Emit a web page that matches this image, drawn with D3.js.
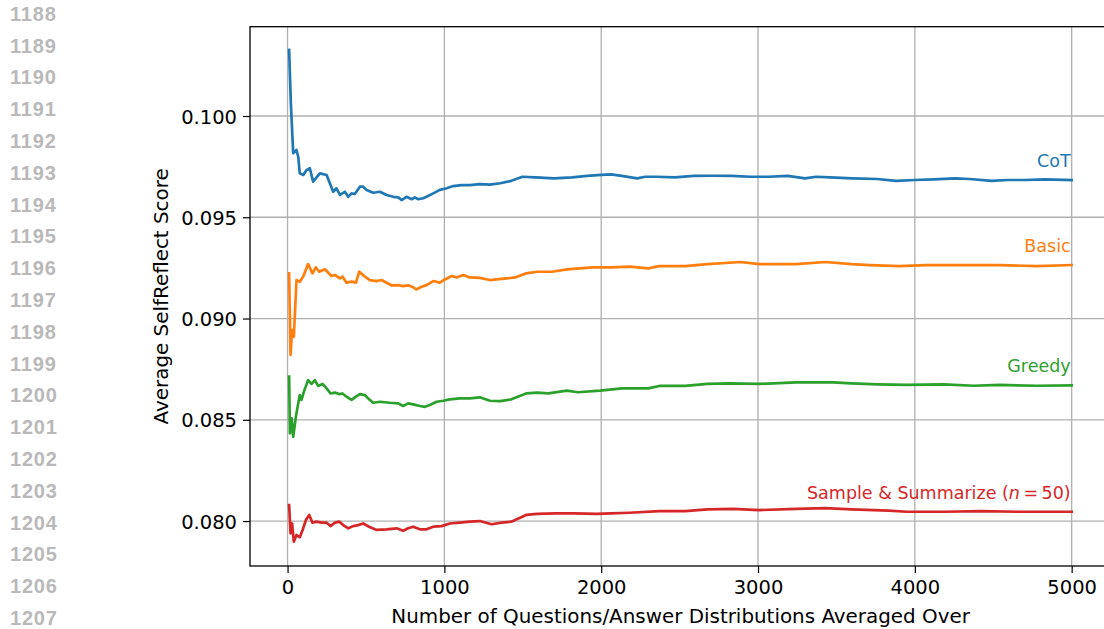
<!DOCTYPE html>
<html>
<head>
<meta charset="utf-8">
<script src="https://cdn.jsdelivr.net/npm/d3@7"></script>
<style>
  html, body { margin: 0; padding: 0; background: #fff; }
  svg { display: block; }
</style>
</head>
<body>
<svg id="chart" width="1104" height="629"></svg>
<script>
// ---- data ----
const lineNumbers = [1188,1189,1190,1191,1192,1193,1194,1195,1196,1197,1198,1199,1200,1201,1202,1203,1204,1205,1206,1207];
const xTicks = [0, 1000, 2000, 3000, 4000, 5000];
const yTicks = [0.080, 0.085, 0.090, 0.095, 0.100];
const seriesNames = ["CoT", "Basic", "Greedy", "Sample & Summarize (n = 50)"];
const seriesColors = ["#1f77b4", "#ff7f0e", "#2ca02c", "#d62728"];

const cot = [[10,0.10326],[21,0.10063],[36,0.09816],[57,0.09832],[68,0.09799],[78,0.09717],[100,0.09709],[121,0.09733],[142,0.09742],[163,0.09676],[206,0.09717],[249,0.09709],[291,0.09626],[312,0.09643],[334,0.0961],[365,0.09626],[387,0.09601],[408,0.09618],[429,0.09615],[461,0.09651],[482,0.09651],[504,0.09635],[546,0.09621],[589,0.09626],[631,0.0961],[674,0.09601],[706,0.09598],[727,0.09585],[759,0.09601],[791,0.09589],[812,0.09598],[833,0.09589],[865,0.09594],[886,0.09601],[929,0.09618],[971,0.09635],[1014,0.09643],[1056,0.09654],[1110,0.09659],[1163,0.09659],[1226,0.09664],[1290,0.09661],[1356,0.09668],[1427,0.0968],[1498,0.097],[1580,0.09697],[1700,0.09692],[1815,0.09697],[1910,0.09704],[2000,0.09709],[2064,0.09712],[2130,0.09704],[2230,0.09692],[2280,0.097],[2350,0.097],[2470,0.09697],[2590,0.09704],[2710,0.09705],[2830,0.09704],[2950,0.097],[3070,0.09700],[3190,0.09704],[3300,0.09692],[3370,0.097],[3460,0.09697],[3600,0.09692],[3760,0.09689],[3880,0.09680],[4000,0.09684],[4120,0.09687],[4260,0.09692],[4350,0.09689],[4490,0.0968],[4590,0.09684],[4700,0.09684],[4830,0.09687],[5000,0.09684]];

const basic = [[10,0.09223],[19,0.0882],[29,0.08943],[40,0.0891],[57,0.0919],[78,0.09182],[100,0.09207],[131,0.09269],[159,0.09223],[180,0.09253],[202,0.09231],[238,0.09243],[280,0.0921],[302,0.09215],[334,0.09198],[350,0.09207],[376,0.09177],[408,0.09182],[436,0.09177],[457,0.09231],[493,0.09207],[525,0.0919],[568,0.09185],[599,0.0919],[631,0.09177],[663,0.09164],[706,0.09165],[737,0.0916],[769,0.09164],[801,0.09154],[822,0.09144],[855,0.09157],[886,0.09165],[929,0.09185],[971,0.09177],[1003,0.09193],[1046,0.0921],[1078,0.09203],[1120,0.09215],[1163,0.09203],[1226,0.09201],[1290,0.0919],[1333,0.09193],[1397,0.09198],[1451,0.09203],[1521,0.09223],[1592,0.09231],[1686,0.09231],[1781,0.09243],[1946,0.09253],[2064,0.09253],[2182,0.09256],[2300,0.09248],[2370,0.09259],[2535,0.09259],[2677,0.09269],[2889,0.09279],[3007,0.09269],[3243,0.09269],[3431,0.09279],[3596,0.09269],[3714,0.09264],[3903,0.09259],[4068,0.09264],[4304,0.09264],[4540,0.09264],[4775,0.09259],[5000,0.09264]];

const greedy = [[10,0.08713],[15,0.08433],[26,0.08507],[36,0.08416],[53,0.08515],[68,0.08581],[78,0.08622],[89,0.08598],[104,0.08639],[131,0.08696],[153,0.08677],[174,0.08696],[195,0.08667],[223,0.08677],[249,0.08655],[274,0.0863],[302,0.08634],[329,0.08627],[350,0.0863],[376,0.08614],[408,0.08598],[436,0.08614],[461,0.08627],[493,0.08622],[520,0.08601],[546,0.08584],[589,0.08589],[652,0.08584],[706,0.08581],[737,0.08568],[769,0.08581],[801,0.08576],[844,0.08568],[876,0.08564],[907,0.08573],[950,0.08589],[992,0.08594],[1035,0.08601],[1099,0.08606],[1163,0.08606],[1226,0.08611],[1290,0.08594],[1356,0.08592],[1427,0.08601],[1521,0.0863],[1592,0.08634],[1663,0.0863],[1781,0.08644],[1851,0.08636],[1993,0.08644],[2134,0.08655],[2300,0.08655],[2370,0.08667],[2535,0.08667],[2677,0.08677],[2818,0.0868],[3007,0.08677],[3243,0.08685],[3478,0.08685],[3596,0.0868],[3761,0.08675],[3950,0.08672],[4186,0.08675],[4375,0.08668],[4540,0.08672],[4775,0.08668],[5000,0.0867]];

const sampleSum = [[10,0.08079],[19,0.07939],[29,0.07988],[40,0.07898],[57,0.07931],[78,0.0792],[96,0.07956],[117,0.08005],[138,0.0803],[159,0.07992],[185,0.07997],[217,0.07992],[249,0.07992],[274,0.07975],[302,0.07992],[329,0.07997],[355,0.0798],[387,0.07964],[418,0.07975],[450,0.0798],[482,0.07988],[520,0.07972],[568,0.07956],[631,0.07959],[695,0.07964],[737,0.07952],[769,0.07964],[801,0.07972],[844,0.07959],[886,0.07959],[929,0.07972],[982,0.07975],[1035,0.07988],[1099,0.07992],[1163,0.07997],[1226,0.0800],[1301,0.07984],[1365,0.07992],[1427,0.07997],[1521,0.0803],[1592,0.08035],[1710,0.08038],[1828,0.08038],[1969,0.08035],[2064,0.08038],[2182,0.08041],[2370,0.08049],[2535,0.08049],[2677,0.08058],[2842,0.0806],[3007,0.08054],[3243,0.0806],[3431,0.08064],[3596,0.08058],[3832,0.08051],[3950,0.08046],[4186,0.08046],[4422,0.08049],[4657,0.08046],[5000,0.08046]];

const allSeries = [cot, basic, greedy, sampleSum];

// ---- layout ----
const svg = d3.select("#chart");
const plot = { left: 250, top: 26.7, right: 1110.8, bottom: 566 };

const x = d3.scaleLinear().domain([-239.5, 5249.5]).range([plot.left, plot.right]);
const y = d3.scaleLinear().domain([0.07778, 0.10441]).range([plot.bottom, plot.top]);

const tickFont = "DejaVu Sans, sans-serif";
const tickSize = 19.5;
const labelSize = 19.9;

// line numbers on the far left
svg.append("g").selectAll("text").data(lineNumbers).join("text")
  .attr("x", 10)
  .attr("y", (d, i) => 20.7 + i * 31.8)
  .attr("font-family", "Liberation Sans, Arial, sans-serif")
  .attr("font-weight", "bold")
  .attr("font-size", 20)
  .attr("letter-spacing", 0.8)
  .attr("fill", "#b9b9b9")
  .text(d => d);

// grid
const grid = svg.append("g");
grid.selectAll("line.gx").data(xTicks).join("line")
  .attr("x1", d => x(d)).attr("x2", d => x(d))
  .attr("y1", plot.top).attr("y2", plot.bottom)
  .attr("stroke", "#b0b0b0").attr("stroke-width", 1.3);
grid.selectAll("line.gy").data(yTicks).join("line")
  .attr("x1", plot.left).attr("x2", plot.right)
  .attr("y1", d => y(d)).attr("y2", d => y(d))
  .attr("stroke", "#b0b0b0").attr("stroke-width", 1.3);

// series lines
const line = d3.line().x(d => x(d[0])).y(d => y(d[1]));
svg.append("g").selectAll("path").data(allSeries).join("path")
  .attr("d", d => line(d))
  .attr("fill", "none")
  .attr("stroke", (d, i) => seriesColors[i])
  .attr("stroke-width", 2.7)
  .attr("stroke-linejoin", "round")
  .attr("stroke-linecap", "square");

// axes
const xAxis = d3.axisBottom(x).tickValues(xTicks).tickFormat(d3.format("d")).tickSize(7).tickPadding(6);
const yAxis = d3.axisLeft(y).tickValues(yTicks).tickFormat(d3.format(".3f")).tickSize(7).tickPadding(6);

const gx = svg.append("g").attr("transform", `translate(0,${plot.bottom})`).call(xAxis);
const gy = svg.append("g").attr("transform", `translate(${plot.left},0)`).call(yAxis);
[gx, gy].forEach(g => {
  g.select(".domain").remove();
  g.selectAll(".tick line").attr("stroke", "#000").attr("stroke-width", 1.2);
  g.selectAll(".tick text").attr("font-family", tickFont).attr("font-size", tickSize).attr("fill", "#000");
});
gy.selectAll(".tick text").attr("dy", "0.36em");
gx.selectAll(".tick text").attr("dy", "0.76em");

// spines
svg.append("rect")
  .attr("x", plot.left).attr("y", plot.top)
  .attr("width", plot.right - plot.left).attr("height", plot.bottom - plot.top)
  .attr("fill", "none").attr("stroke", "#000").attr("stroke-width", 1.3);

// axis labels
svg.append("text")
  .attr("x", (x(0) + x(5000)) / 2 + 1)
  .attr("y", 623)
  .attr("text-anchor", "middle")
  .attr("font-family", tickFont).attr("font-size", labelSize)
  .text("Number of Questions/Answer Distributions Averaged Over");

svg.append("text")
  .attr("transform", `translate(168,${(plot.top + plot.bottom) / 2}) rotate(-90)`)
  .attr("text-anchor", "middle")
  .attr("font-family", tickFont).attr("font-size", labelSize)
  .text("Average SelfReflect Score");

// end-of-line labels
const labels = svg.append("g");
allSeries.forEach((s, i) => {
  const last = s[s.length - 1];
  const t = labels.append("text")
    .attr("x", x(last[0]) - 1)
    .attr("y", y(last[1]) - 13)
    .attr("text-anchor", "end")
    .attr("font-family", tickFont).attr("font-size", 17.5)
    .attr("fill", seriesColors[i]);
  if (i === 3) {
    t.append("tspan").text("Sample & Summarize (");
    t.append("tspan").attr("font-style", "italic").text("n");
    t.append("tspan").text("\u2009=\u200950)");
  } else {
    t.text(seriesNames[i]);
  }
});
</script>
</body>
</html>
